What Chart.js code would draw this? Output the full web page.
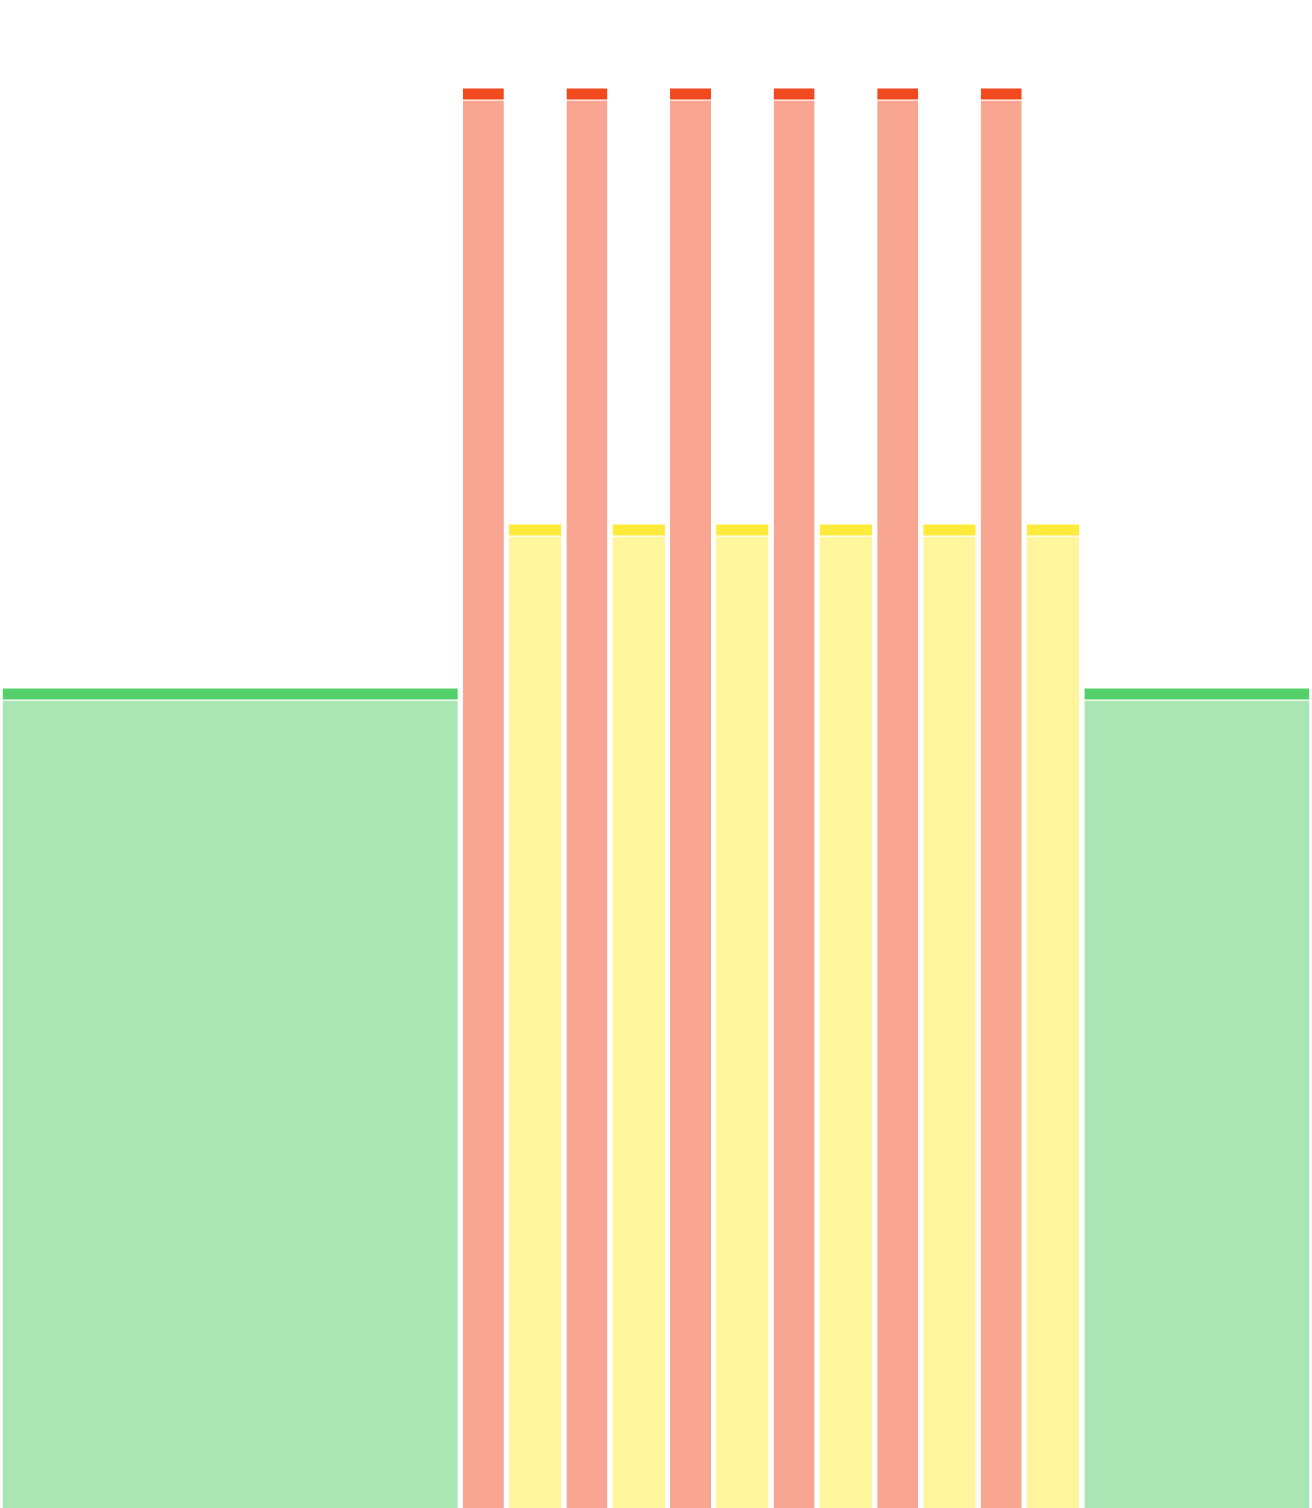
<!DOCTYPE html>
<html>
<head>
<meta charset="utf-8">
<script src="https://cdn.jsdelivr.net/npm/chart.js@4.4.1/dist/chart.umd.min.js"></script>
<style>
  html, body { margin: 0; padding: 0; background: #fff; }
  #wrap { width: 1312px; height: 1508px; }
</style>
</head>
<body>
<div id="wrap"><canvas id="chart" width="1312" height="1508"></canvas></div>
<script>
// variable-width bars, left to right
const barKinds = ['green', 'red', 'yellow', 'red', 'yellow', 'red', 'yellow', 'red', 'yellow', 'red', 'yellow', 'red', 'yellow', 'green'];
const barWidths = [40, 4, 5, 4, 5, 4, 5, 4, 5, 4, 5, 4, 5, 20];
const barHeights = [50, 86.6, 60, 86.6, 60, 86.6, 60, 86.6, 60, 86.6, 60, 86.6, 60, 50];

const Y_MAX = 92;
const X_GAP = 0.22;   // half of the white gap between bars, x units
const CAP = 0.67;     // height of the dark top strip, y units
const CAP_GAP = 0.08; // white line under the strip

const colors = {
  green: { cap: '#54d06a', fill: '#aae6b4' },
  red: { cap: '#f2491f', fill: '#f8a591' },
  yellow: { cap: '#ffeb3b', fill: '#fff59d' }
};

const totalWidth = barWidths.reduce((a, b) => a + b, 0);

const datasets = [];
let x = 0;
barWidths.forEach((w, i) => {
  const x0 = x + X_GAP;
  const x1 = x + w - X_GAP;
  const h = barHeights[i];
  const c = colors[barKinds[i]];
  // body of the bar
  datasets.push({
    data: [{ x: x0, y: h - CAP - CAP_GAP }, { x: x1, y: h - CAP - CAP_GAP }],
    backgroundColor: c.fill,
    borderWidth: 0,
    pointRadius: 0,
    fill: 'origin'
  });
  // dark strip on top
  datasets.push({
    data: [{ x: x0, y: h }, { x: x1, y: h }],
    backgroundColor: c.cap,
    borderWidth: 0,
    pointRadius: 0,
    fill: { value: h - CAP }
  });
  x += w;
});

new Chart(document.getElementById('chart'), {
  type: 'line',
  data: { datasets },
  options: {
    responsive: false,
    animation: false,
    layout: { padding: 0 },
    plugins: { legend: { display: false }, tooltip: { enabled: false } },
    scales: {
      x: { type: 'linear', min: 0, max: totalWidth, display: false },
      y: { min: 0, max: Y_MAX, display: false }
    }
  }
});
</script>
</body>
</html>
